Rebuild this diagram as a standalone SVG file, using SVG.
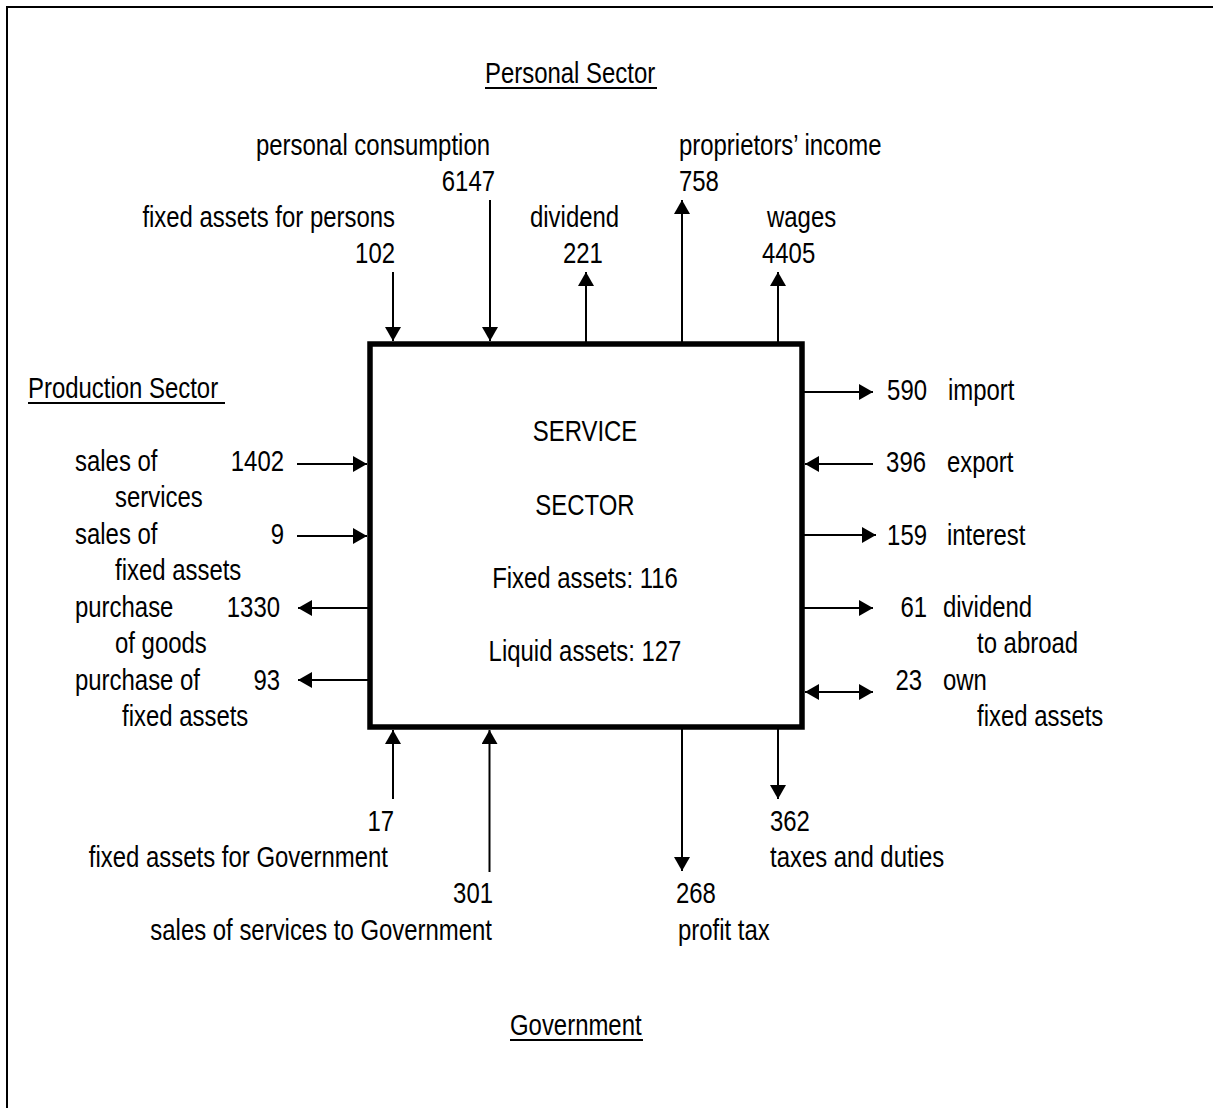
<svg xmlns="http://www.w3.org/2000/svg" width="1213" height="1108" viewBox="0 0 1213 1108">
  <style>
    text { font-family: "Liberation Sans", Arial, sans-serif; font-size: 29px; fill: #000; }
    .e { text-anchor: end; }
    .m { text-anchor: middle; }
    .flow { stroke: #000; stroke-width: 2; fill: none; }
    .ul { stroke: #000; stroke-width: 2; }
  </style>
  <defs>
    <marker id="arrow" markerUnits="userSpaceOnUse" markerWidth="15" markerHeight="17" refX="14" refY="8" orient="auto-start-reverse" viewBox="0 0 15 17">
      <path d="M0,0 L14,8 L0,16 Z" fill="#000"/>
    </marker>
  </defs>

  <rect x="0" y="0" width="1213" height="1108" fill="#fff"/>
  <!-- outer frame -->
  <rect x="7" y="7" width="1240" height="1140" fill="none" stroke="#000" stroke-width="2"/>

  <!-- sector headings -->
  <g id="personal-sector">
    <text transform="translate(485 83) scale(0.825 1)">Personal Sector</text>
    <line class="ul" x1="485" y1="88" x2="657" y2="88"/>
  </g>
  <g id="production-sector">
    <text transform="translate(28 398) scale(0.825 1)">Production Sector</text>
    <line class="ul" x1="28" y1="403" x2="225" y2="403"/>
  </g>
  <g id="government">
    <text transform="translate(510 1035) scale(0.825 1)">Government</text>
    <line class="ul" x1="510" y1="1040" x2="643" y2="1040"/>
  </g>

  <!-- central node -->
  <g id="service-sector">
    <rect x="370" y="344" width="432" height="383" fill="none" stroke="#000" stroke-width="5.5"/>
    <text class="m" transform="translate(585 441) scale(0.825 1)">SERVICE</text>
    <text class="m" transform="translate(585 515) scale(0.825 1)">SECTOR</text>
    <text class="m" transform="translate(585 588) scale(0.825 1)">Fixed assets: 116</text>
    <text class="m" transform="translate(585 661) scale(0.825 1)">Liquid assets: 127</text>
  </g>

  <!-- flow labels: personal sector -->
  <g id="lbl-personal-consumption">
    <text class="e" transform="translate(490 155) scale(0.825 1)">personal consumption</text>
    <text class="e" transform="translate(495 191) scale(0.825 1)">6147</text>
  </g>
  <g id="lbl-fixed-assets-persons">
    <text class="e" transform="translate(395 227) scale(0.825 1)">fixed assets for persons</text>
    <text class="e" transform="translate(395 263) scale(0.825 1)">102</text>
  </g>
  <g id="lbl-dividend">
    <text transform="translate(530 227) scale(0.825 1)">dividend</text>
    <text transform="translate(563 263) scale(0.825 1)">221</text>
  </g>
  <g id="lbl-proprietors-income">
    <text transform="translate(679 155) scale(0.825 1)">proprietors’ income</text>
    <text transform="translate(679 191) scale(0.825 1)">758</text>
  </g>
  <g id="lbl-wages">
    <text transform="translate(767 227) scale(0.825 1)">wages</text>
    <text transform="translate(762 263) scale(0.825 1)">4405</text>
  </g>

  <!-- flow labels: production sector -->
  <g id="lbl-sales-services">
    <text transform="translate(75 471) scale(0.825 1)">sales of</text>
    <text class="e" transform="translate(284 471) scale(0.825 1)">1402</text>
    <text transform="translate(115 507) scale(0.825 1)">services</text>
  </g>
  <g id="lbl-sales-fixed-assets">
    <text transform="translate(75 544) scale(0.825 1)">sales of</text>
    <text class="e" transform="translate(284 544) scale(0.825 1)">9</text>
    <text transform="translate(115 580) scale(0.825 1)">fixed assets</text>
  </g>
  <g id="lbl-purchase-goods">
    <text transform="translate(75 617) scale(0.825 1)">purchase</text>
    <text class="e" transform="translate(280 617) scale(0.825 1)">1330</text>
    <text transform="translate(115 653) scale(0.825 1)">of goods</text>
  </g>
  <g id="lbl-purchase-fixed-assets">
    <text transform="translate(75 690) scale(0.825 1)">purchase of</text>
    <text class="e" transform="translate(280 690) scale(0.825 1)">93</text>
    <text transform="translate(122 726) scale(0.825 1)">fixed assets</text>
  </g>

  <!-- flow labels: abroad -->
  <g id="lbl-import">
    <text class="e" transform="translate(927 400) scale(0.825 1)">590</text>
    <text transform="translate(948 400) scale(0.825 1)">import</text>
  </g>
  <g id="lbl-export">
    <text class="e" transform="translate(926 472) scale(0.825 1)">396</text>
    <text transform="translate(947 472) scale(0.825 1)">export</text>
  </g>
  <g id="lbl-interest">
    <text class="e" transform="translate(927 545) scale(0.825 1)">159</text>
    <text transform="translate(947 545) scale(0.825 1)">interest</text>
  </g>
  <g id="lbl-dividend-abroad">
    <text class="e" transform="translate(927 617) scale(0.825 1)">61</text>
    <text transform="translate(943 617) scale(0.825 1)">dividend</text>
    <text transform="translate(977 653) scale(0.825 1)">to abroad</text>
  </g>
  <g id="lbl-own-fixed-assets">
    <text class="e" transform="translate(922 690) scale(0.825 1)">23</text>
    <text transform="translate(943 690) scale(0.825 1)">own</text>
    <text transform="translate(977 726) scale(0.825 1)">fixed assets</text>
  </g>

  <!-- flow labels: government -->
  <g id="lbl-fixed-assets-government">
    <text class="e" transform="translate(394 831) scale(0.825 1)">17</text>
    <text class="e" transform="translate(388 867) scale(0.825 1)">fixed assets for Government</text>
  </g>
  <g id="lbl-sales-government">
    <text class="e" transform="translate(493 903) scale(0.825 1)">301</text>
    <text class="e" transform="translate(492 940) scale(0.825 1)">sales of services to Government</text>
  </g>
  <g id="lbl-profit-tax">
    <text transform="translate(676 903) scale(0.825 1)">268</text>
    <text transform="translate(678 940) scale(0.825 1)">profit tax</text>
  </g>
  <g id="lbl-taxes-duties">
    <text transform="translate(770 831) scale(0.825 1)">362</text>
    <text transform="translate(770 867) scale(0.825 1)">taxes and duties</text>
  </g>

  <!-- connectors -->
  <g id="connectors">
    <!-- personal sector -->
    <line class="flow" x1="393" y1="272" x2="393" y2="341" marker-end="url(#arrow)"/>
    <line class="flow" x1="490" y1="200" x2="490" y2="341" marker-end="url(#arrow)"/>
    <line class="flow" x1="586" y1="344" x2="586" y2="272" marker-end="url(#arrow)"/>
    <line class="flow" x1="682" y1="344" x2="682" y2="200" marker-end="url(#arrow)"/>
    <line class="flow" x1="778" y1="344" x2="778" y2="272" marker-end="url(#arrow)"/>
    <!-- production sector -->
    <line class="flow" x1="297" y1="464" x2="367" y2="464" marker-end="url(#arrow)"/>
    <line class="flow" x1="297" y1="536" x2="367" y2="536" marker-end="url(#arrow)"/>
    <line class="flow" x1="370" y1="608" x2="298" y2="608" marker-end="url(#arrow)"/>
    <line class="flow" x1="370" y1="680" x2="298" y2="680" marker-end="url(#arrow)"/>
    <!-- abroad -->
    <line class="flow" x1="802" y1="392" x2="873" y2="392" marker-end="url(#arrow)"/>
    <line class="flow" x1="873" y1="464" x2="805" y2="464" marker-end="url(#arrow)"/>
    <line class="flow" x1="802" y1="535" x2="876" y2="535" marker-end="url(#arrow)"/>
    <line class="flow" x1="802" y1="608" x2="873" y2="608" marker-end="url(#arrow)"/>
    <line class="flow" x1="805" y1="692" x2="873" y2="692" marker-start="url(#arrow)" marker-end="url(#arrow)"/>
    <!-- government -->
    <line class="flow" x1="393" y1="799" x2="393" y2="730" marker-end="url(#arrow)"/>
    <line class="flow" x1="489.5" y1="872" x2="489.5" y2="730" marker-end="url(#arrow)"/>
    <line class="flow" x1="682" y1="727" x2="682" y2="871" marker-end="url(#arrow)"/>
    <line class="flow" x1="778" y1="727" x2="778" y2="799" marker-end="url(#arrow)"/>
  </g>
</svg>
